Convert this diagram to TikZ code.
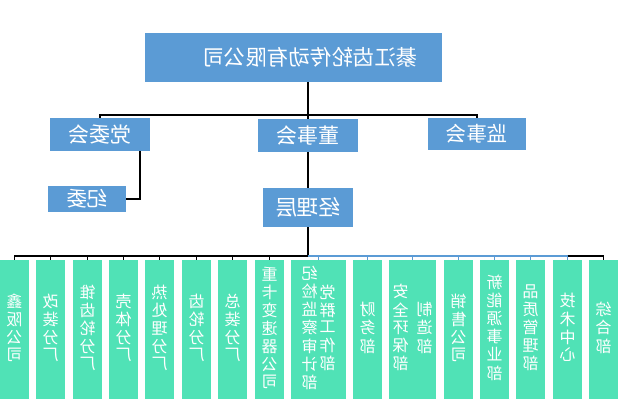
\documentclass[tikz,border=0pt]{standalone}
\usepackage{fontspec}
\setmainfont{Noto Sans CJK SC}
\usepackage{graphicx}
\definecolor{cblue}{HTML}{5B9BD5}
\definecolor{cgreen}{HTML}{50E2B6}
\newcommand\vstk[1]{\begin{tabular}{@{}c@{}}#1\end{tabular}}
\newcommand\mir[1]{\reflectbox{#1}}
\tikzset{
  bbox/.style={fill=cblue, text=white, inner sep=0pt},
  gbox/.style={fill=cgreen, text=white, inner sep=0pt, minimum width=29pt,
    minimum height=139pt, font=\fontsize{16}{15.7}\selectfont},
  conn/.style={draw=black, line width=1.3pt},
  bconn/.style={draw=cblue, line width=1.3pt}
}
\begin{document}
\begin{tikzpicture}[x=1pt,y=-1pt]
\useasboundingbox[fill=white] (0,0) rectangle (619,403);
% top
\node[bbox, minimum width=297pt, minimum height=49pt, font=\fontsize{21.5}{21}\selectfont] (title) at (293.5,57.5) {\hspace{33pt}\mir{綦江齿轮传动有限公司}};
% second row
\node[bbox, minimum width=100pt, minimum height=33pt, font=\fontsize{21}{21}\selectfont] (dw) at (100,134.5) {\mir{党委会}};
\node[bbox, minimum width=100pt, minimum height=33pt, font=\fontsize{21}{21}\selectfont] (dsh) at (308,135.5) {\mir{董事会}};
\node[bbox, minimum width=98pt, minimum height=32pt, font=\fontsize{20.5}{21}\selectfont] (js) at (477,134) {\mir{监事会}\hspace{9pt}};
\node[bbox, minimum width=78pt, minimum height=26pt, font=\fontsize{20.5}{21}\selectfont] (jw) at (87,199) {\mir{纪委}};
\node[bbox, minimum width=90pt, minimum height=39pt, font=\fontsize{21.5}{22}\selectfont] (jl) at (308,207.5) {\mir{经理层}};
% bottom row
\node[gbox] (b1) at (14.5,329.5) {\mir{\vstk{鑫\\阪\\公\\司}}};
\node[gbox] (b2) at (50.5,329.5) {\mir{\vstk{改\\装\\分\\厂}}};
\node[gbox] (b3) at (87.5,329.5) {\mir{\vstk{锥\\齿\\轮\\分\\厂}}};
\node[gbox] (b4) at (123.5,329.5) {\mir{\vstk{壳\\体\\分\\厂}}};
\node[gbox] (b5) at (159.5,329.5) {\mir{\vstk{热\\处\\理\\分\\厂}}};
\node[gbox] (b6) at (196.5,329.5) {\mir{\vstk{齿\\轮\\分\\厂}}};
\node[gbox] (b7) at (232.5,329.5) {\mir{\vstk{总\\装\\分\\厂}}};
\node[gbox] (b8) at (269.5,329.5) {\mir{\vstk{重\\卡\\变\\速\\器\\公\\司}}};
\node[gbox, minimum width=55pt] (b9) at (318.5,329.5) {\mir{\vstk{党\\群\\工\\作\\部}\hspace{2pt}\vstk{纪\\检\\监\\察\\审\\计\\部}}\hspace{16pt}};
\node[gbox, minimum width=47pt] (b11) at (412.5,329.5) {\mir{\vstk{制\\造\\部}\hspace{8pt}\vstk{安\\全\\环\\保\\部}}\hspace{11pt}};
\node[gbox] (b10) at (367.5,329.5) {\mir{\vstk{财\\务\\部}}};
\node[gbox] (b12) at (458.5,329.5) {\mir{\vstk{销\\售\\公\\司}}};
\node[gbox] (b13) at (494.5,329.5) {\mir{\vstk{新\\能\\源\\事\\业\\部}}};
\node[gbox] (b14) at (530.5,329.5) {\mir{\vstk{品\\质\\管\\理\\部}}};
\node[gbox] (b15) at (567.5,329.5) {\mir{\vstk{技\\术\\中\\心}}};
\node[gbox] (b16) at (603.5,329.5) {\mir{\vstk{综\\合\\部}}};
% connectors
\coordinate (bus1) at (308,115);
\coordinate (bus2) at (308,256);
\coordinate (dwk) at (140,151);
\draw[conn] (title.south -| bus1) -- (bus1);
\draw[conn] (dw.north) |- (bus1) -| (js.north);
\draw[conn] (bus1) -- (dsh.north);
\draw[conn] (dwk) |- (jw.east);
\draw[conn] (dsh.south) -- (jl.north);
\draw[conn] (jl.south) -- (bus2);
\draw[conn] (bus2) -| (b1.north);
\foreach \b in {b2,b3,b4,b5,b6,b7,b8} \draw[conn] (\b.north) -- (\b.north |- bus2);
\draw[bconn] (bus2) -| (b15.north);
\foreach \b in {b9,b10,b11,b12,b13,b14} \draw[bconn] (\b.north) -- (\b.north |- bus2);
\draw[conn] (b15.north |- bus2) -| (b16.north);
\end{tikzpicture}
\end{document}
